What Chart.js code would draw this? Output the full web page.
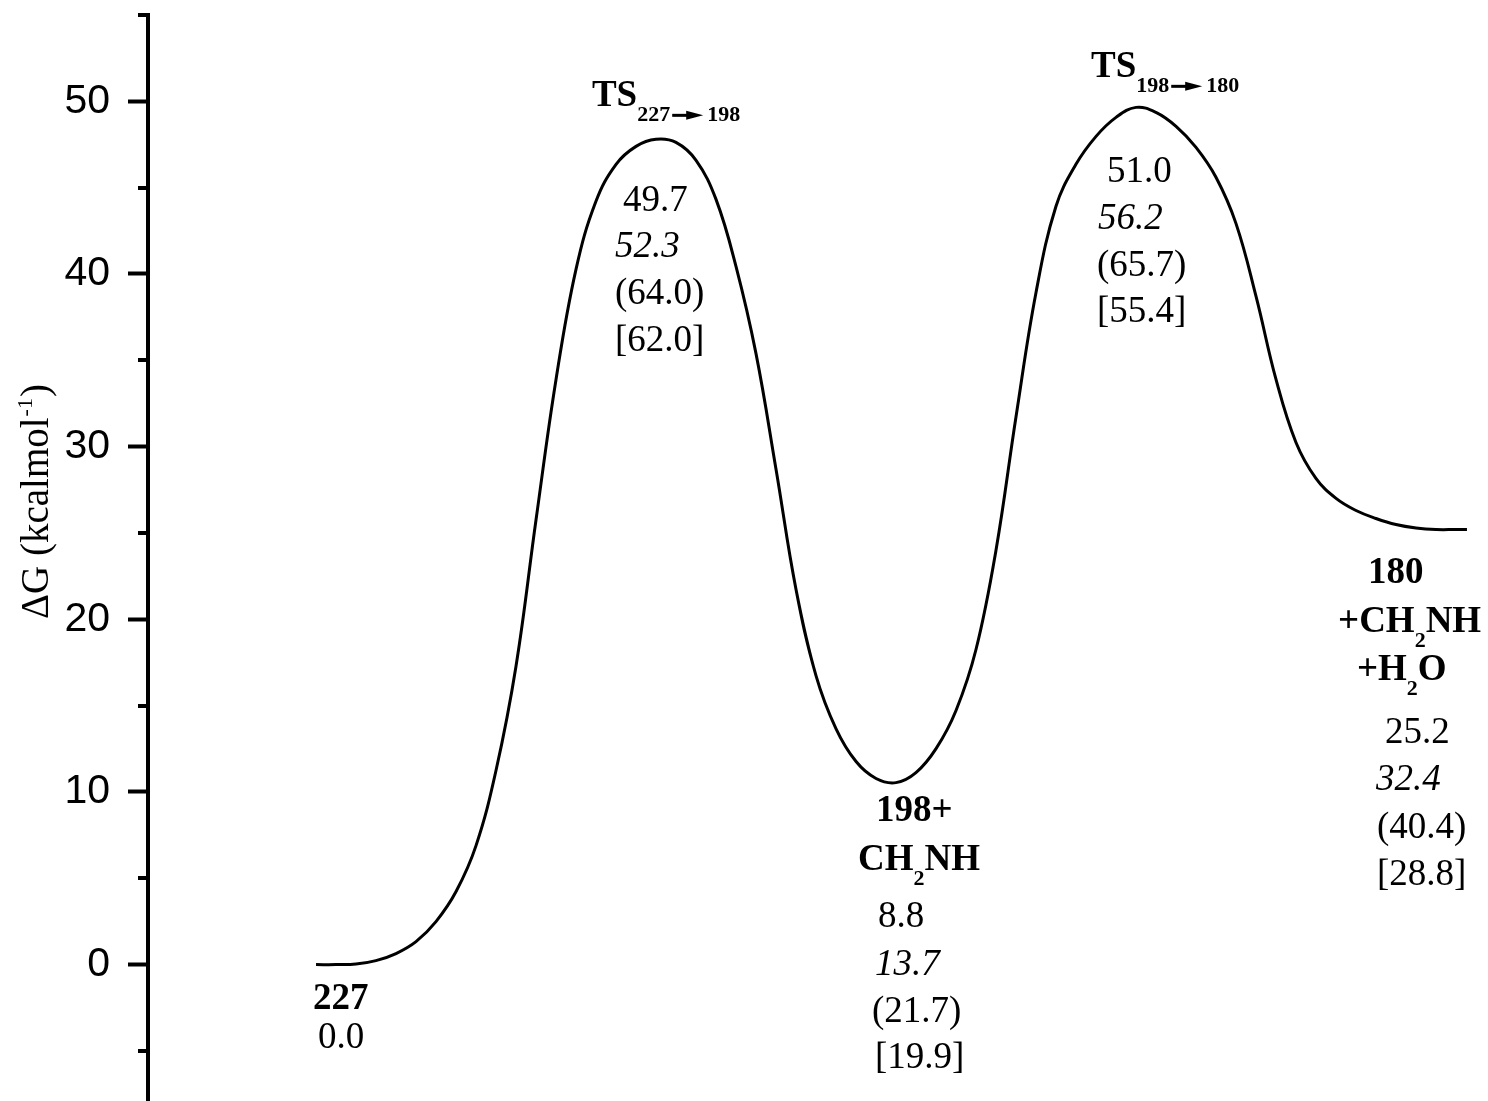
<!DOCTYPE html>
<html>
<head>
<meta charset="utf-8">
<script src="https://cdn.jsdelivr.net/npm/chart.js@4.4.1/dist/chart.umd.min.js"></script>
<style>
  html, body { margin: 0; padding: 0; background: #fff; overflow: hidden; }
  #wrap { width: 1488px; height: 1101px; }
</style>
</head>
<body>
<div id="wrap"><canvas id="myChart"></canvas></div>
<script>
// reaction coordinate (arbitrary units) and free energy
var coordX = [12.54, 14.03, 15.52, 17.01, 18.51, 20.00, 21.49, 22.99, 24.48, 25.97,
    27.46, 28.96, 30.45, 31.94, 33.43, 34.93, 36.42, 37.91, 39.40, 40.90,
    42.39, 43.88, 45.37, 46.87, 48.36, 49.85, 51.34, 52.84, 54.33, 55.82,
    57.31, 58.81, 60.30, 61.79, 63.28, 64.78, 66.27, 67.76, 69.25, 70.75,
    72.24, 73.73, 75.22, 76.72, 78.21, 79.70, 81.19, 82.69, 84.18, 85.67,
    87.16, 88.66, 90.15, 91.64, 93.13, 94.63, 96.12, 97.61, 98.43];
var energy = [0, 0, 0.03, 0.23, 0.64, 1.33, 2.49, 4.23, 6.89, 11.24,
    17.27, 25.78, 33.89, 40.27, 44.21, 46.35, 47.39, 47.80, 47.62, 46.58,
    44.32, 40.44, 35.40, 28.68, 21.73, 16.74, 13.67, 11.76, 10.78, 10.54,
    11.12, 12.51, 14.72, 18.25, 23.99, 31.75, 38.93, 43.92, 46.35, 47.97,
    49.07, 49.65, 49.36, 48.55, 47.33, 45.60, 42.93, 38.70, 33.89, 30.24,
    28.16, 27.00, 26.30, 25.84, 25.49, 25.29, 25.20, 25.20, 25.20];

var yMin = -7.9;
var yMax = 55;
var yStep = 5;
var yLabelStep = 10;

// state labels: text parts, b = bold, n = normal, i = italic, s = bold subscript, a = arrow
var stateNames = [
    { x: 12.31, y: -2.55, parts: [['227', 'b']] },
    { x: 33.13, y: 49.71, parts: [['TS', 'b'], ['227', 's'], ['', 'a'], ['198', 's']] },
    { x: 54.33, y: 8.29, parts: [['198+', 'b']] },
    { x: 52.99, y: 5.50, parts: [['CH', 'b'], ['2', 's'], ['NH', 'b']] },
    { x: 70.37, y: 51.39, parts: [['TS', 'b'], ['198', 's'], ['', 'a'], ['180', 's']] },
    { x: 91.04, y: 22.13, parts: [['180', 'b']] },
    { x: 88.81, y: 19.29, parts: [['+CH', 'b'], ['2', 's'], ['NH', 'b']] },
    { x: 90.22, y: 16.51, parts: [['+H', 'b'], ['2', 's'], ['O', 'b']] }
];
var stateValues = [
    { x: 12.69, y: -4.81, parts: [['0.0', 'n']] },
    { x: 35.45, y: 43.63, parts: [['49.7', 'n']] },
    { x: 34.85, y: 40.96, parts: [['52.3', 'i']] },
    { x: 34.85, y: 38.24, parts: [['(64.0)', 'n']] },
    { x: 34.85, y: 35.52, parts: [['[62.0]', 'n']] },
    { x: 71.57, y: 45.31, parts: [['51.0', 'n']] },
    { x: 70.90, y: 42.58, parts: [['56.2', 'i']] },
    { x: 70.82, y: 39.86, parts: [['(65.7)', 'n']] },
    { x: 70.82, y: 37.20, parts: [['[55.4]', 'n']] },
    { x: 54.48, y: 2.20, parts: [['8.8', 'n']] },
    { x: 54.25, y: -0.58, parts: [['13.7', 'i']] },
    { x: 54.03, y: -3.30, parts: [['(21.7)', 'n']] },
    { x: 54.25, y: -5.97, parts: [['[19.9]', 'n']] },
    { x: 92.31, y: 12.86, parts: [['25.2', 'n']] },
    { x: 91.64, y: 10.14, parts: [['32.4', 'i']] },
    { x: 91.72, y: 7.36, parts: [['(40.4)', 'n']] },
    { x: 91.72, y: 4.63, parts: [['[28.8]', 'n']] }
];

var serif = '"Liberation Serif", "Times New Roman", serif';
var sans = '"Liberation Sans", Arial, sans-serif';

function drawParts(ctx, px, py, parts) {
    var x = px;
    parts.forEach(function(p) {
        var t = p[0], k = p[1];
        if (k == 'a') {
            // arrow of the subscript
            var ay = py + 9;
            ctx.fillRect(x + 2, ay - 1.5, 18, 3);
            ctx.beginPath();
            ctx.moveTo(x + 16, ay - 4.5);
            ctx.lineTo(x + 33, ay);
            ctx.lineTo(x + 16, ay + 4.5);
            ctx.closePath();
            ctx.fill();
            x += 37;
            return;
        }
        var dy = 0;
        if (k == 'b') ctx.font = 'bold 37px ' + serif;
        else if (k == 'i') ctx.font = 'italic 37px ' + serif;
        else if (k == 's') { ctx.font = 'bold 22px ' + serif; dy = 15; }
        else ctx.font = '37px ' + serif;
        ctx.fillText(t, x, py + dy);
        x += ctx.measureText(t).width;
    });
}

var labelPlugin = {
    id: 'labelPlugin',
    afterDraw: function(chart) {
        var ctx = chart.ctx;
        var xs = chart.scales.x, ys = chart.scales.y;
        ctx.save();
        ctx.fillStyle = '#000';
        ctx.strokeStyle = '#000';

        // minor ticks
        ctx.lineWidth = 4;
        ys.ticks.forEach(function(t) {
            if (t.value % yLabelStep !== 0) {
                var ty = Math.round(ys.getPixelForValue(t.value));
                ctx.beginPath();
                ctx.moveTo(ys.right - 10, ty);
                ctx.lineTo(ys.right, ty);
                ctx.stroke();
            }
        });

        ctx.textAlign = 'left';
        ctx.textBaseline = 'alphabetic';
        stateNames.concat(stateValues).forEach(function(l) {
            drawParts(ctx, xs.getPixelForValue(l.x), ys.getPixelForValue(l.y), l.parts);
        });

        // axis title with superscript
        ctx.translate(48, 619);
        ctx.rotate(-Math.PI / 2);
        ctx.font = '39px ' + serif;
        var s1 = '\u0394G (kcalmol';
        ctx.fillText(s1, 0, 0);
        var w = ctx.measureText(s1).width;
        ctx.font = '22px ' + serif;
        ctx.fillText('-1', w + 1, -16);
        w += ctx.measureText('-1').width + 2;
        ctx.font = '39px ' + serif;
        ctx.fillText(')', w, 0);
        ctx.restore();
    }
};

var ctx = document.getElementById('myChart').getContext('2d');
var myChart = new Chart(ctx, {
    type: 'line',
    data: {
        datasets: [{
            label: 'profile',
            data: coordX.map(function(x, i) { return { x: x, y: energy[i] }; }),
            borderColor: '#000',
            borderWidth: 3,
            pointRadius: 0,
            fill: false,
            tension: 0.4
        }]
    },
    options: {
        responsive: true,
        maintainAspectRatio: false,
        animation: false,
        layout: { padding: { top: 15, left: 0, right: 0, bottom: 0 } },
        plugins: {
            legend: { display: false },
            tooltip: { enabled: false },
            title: { display: false }
        },
        scales: {
            x: {
                type: 'linear',
                min: 0,
                max: 100,
                display: false
            },
            y: {
                type: 'linear',
                min: yMin,
                max: yMax,
                afterFit: function(scale) {
                    scale.width = 148;
                    scale.paddingTop = 0;
                    scale.paddingBottom = 0;
                },
                border: { display: true, color: '#000', width: 4 },
                grid: {
                    drawOnChartArea: false,
                    tickLength: 20,
                    tickWidth: 4,
                    tickColor: function(c) {
                        return (c.tick && c.tick.value % yLabelStep === 0) ? '#000' : 'rgba(0,0,0,0)';
                    }
                },
                ticks: {
                    stepSize: yStep,
                    includeBounds: false,
                    padding: 18,
                    color: '#000',
                    font: { family: sans, size: 41 },
                    callback: function(v) {
                        return v % yLabelStep === 0 ? v : '';
                    }
                }
            }
        }
    },
    plugins: [labelPlugin]
});
</script>
</body>
</html>
